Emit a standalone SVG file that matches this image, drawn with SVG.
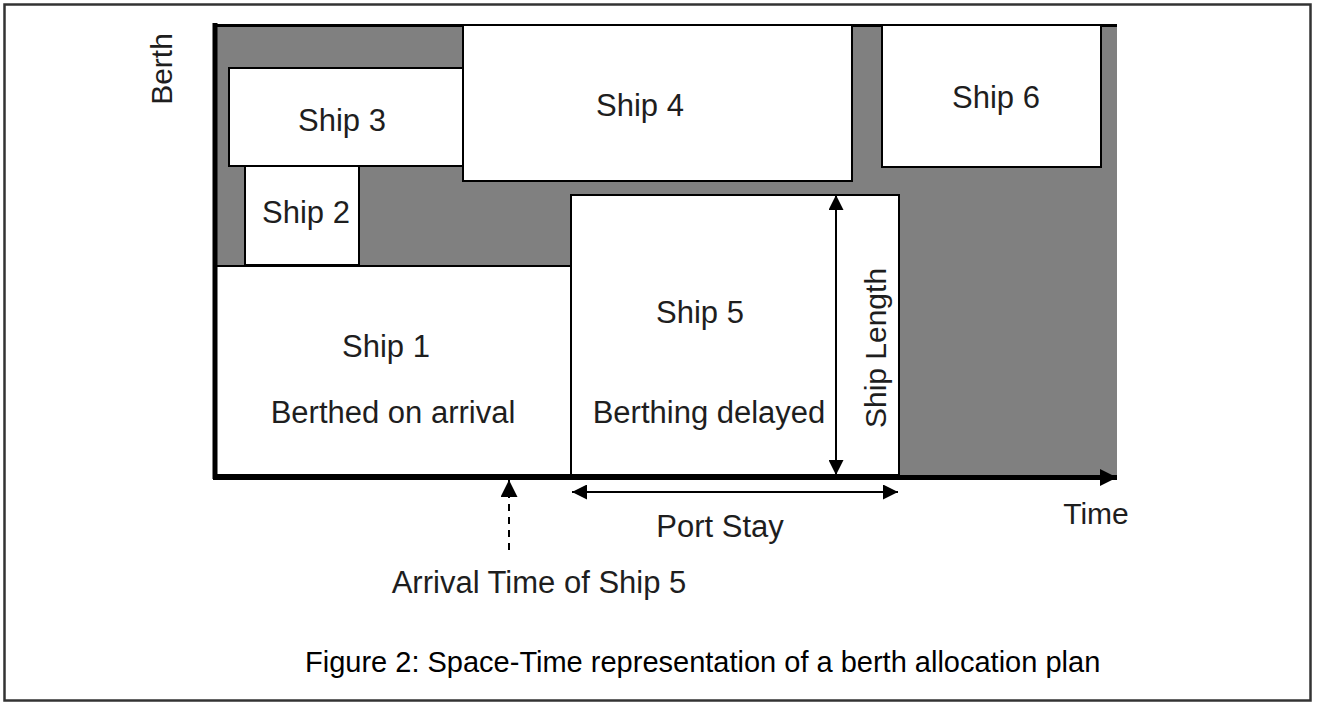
<svg xmlns="http://www.w3.org/2000/svg" width="1318" height="702" viewBox="0 0 1318 702">
<defs>
<style>
.lbl{font-family:"Liberation Sans",Arial,sans-serif;font-size:31px;fill:#1e1e1e;text-anchor:middle}
.ax{font-family:"Liberation Sans",Arial,sans-serif;font-size:30px;fill:#1e1e1e;text-anchor:middle}
.cap{font-family:"Liberation Sans",Arial,sans-serif;font-size:29px;fill:#000}
.ship{fill:#fff;stroke:#000;stroke-width:2}
.ln{stroke:#000;stroke-width:2;fill:none}
</style>
<marker id="ah" viewBox="0 0 15 15" refX="15" refY="7.5" markerWidth="15" markerHeight="15" markerUnits="userSpaceOnUse" orient="auto-start-reverse">
<path d="M0,0 L15,7.5 L0,15 Z" fill="#000"/>
</marker>
<marker id="ahb" viewBox="0 0 17 17" refX="17" refY="8.5" markerWidth="17" markerHeight="17" markerUnits="userSpaceOnUse" orient="auto">
<path d="M0,0 L17,8.5 L0,17 Z" fill="#000"/>
</marker>
</defs>
<rect x="0" y="0" width="1318" height="702" fill="#fff"/>
<rect x="4.5" y="4.5" width="1306" height="696" fill="none" stroke="#333" stroke-width="2.5"/>

<g id="plot">
<rect x="215" y="25" width="902" height="452" fill="#808080"/>
<line x1="213" y1="25.5" x2="1117" y2="25.5" stroke="#000" stroke-width="3"/>
</g>

<g id="ship3"><rect class="ship" x="229" y="68" width="234" height="98"/><text class="lbl" x="342" y="131">Ship 3</text></g>
<g id="ship2"><rect class="ship" x="245" y="166" width="114" height="99"/><text class="lbl" x="306" y="223">Ship 2</text></g>
<g id="ship4"><rect class="ship" x="463" y="25" width="389" height="156"/><text class="lbl" x="640" y="116">Ship 4</text></g>
<g id="ship6"><rect class="ship" x="882" y="25" width="219" height="142"/><text class="lbl" x="996" y="108">Ship 6</text></g>
<g id="ship1"><rect class="ship" x="216" y="266" width="355" height="209"/><text class="lbl" x="386" y="357">Ship 1</text><text class="lbl" x="393" y="423">Berthed on arrival</text></g>
<g id="ship5"><rect class="ship" x="571" y="195" width="328" height="280"/><text class="lbl" x="700" y="323">Ship 5</text><text class="lbl" x="709" y="423">Berthing delayed</text></g>

<g id="axes">
<line x1="215" y1="23" x2="215" y2="479" stroke="#000" stroke-width="5"/>
<line x1="213" y1="477.5" x2="1117" y2="477.5" stroke="#000" stroke-width="5" marker-end="url(#ahb)"/>
<text class="ax" transform="translate(172,69) rotate(-90)">Berth</text>
<text class="ax" x="1096" y="524">Time</text>
</g>

<g id="connectors">
<line class="ln" x1="836" y1="195" x2="836" y2="475" marker-start="url(#ah)" marker-end="url(#ah)"/>
<line class="ln" x1="572" y1="492" x2="898" y2="492" marker-start="url(#ah)" marker-end="url(#ah)"/>
<line class="ln" x1="509" y1="550" x2="509" y2="480" stroke-dasharray="7,6" marker-end="url(#ahb)"/>
</g>

<g id="labels">
<text class="ax" transform="translate(886,348) rotate(-90)">Ship Length</text>
<text class="lbl" x="720" y="537">Port Stay</text>
<text class="lbl" x="539" y="593">Arrival Time of Ship 5</text>
<text class="cap" x="305" y="672">Figure 2: Space-Time representation of a berth allocation plan</text>
</g>
</svg>
